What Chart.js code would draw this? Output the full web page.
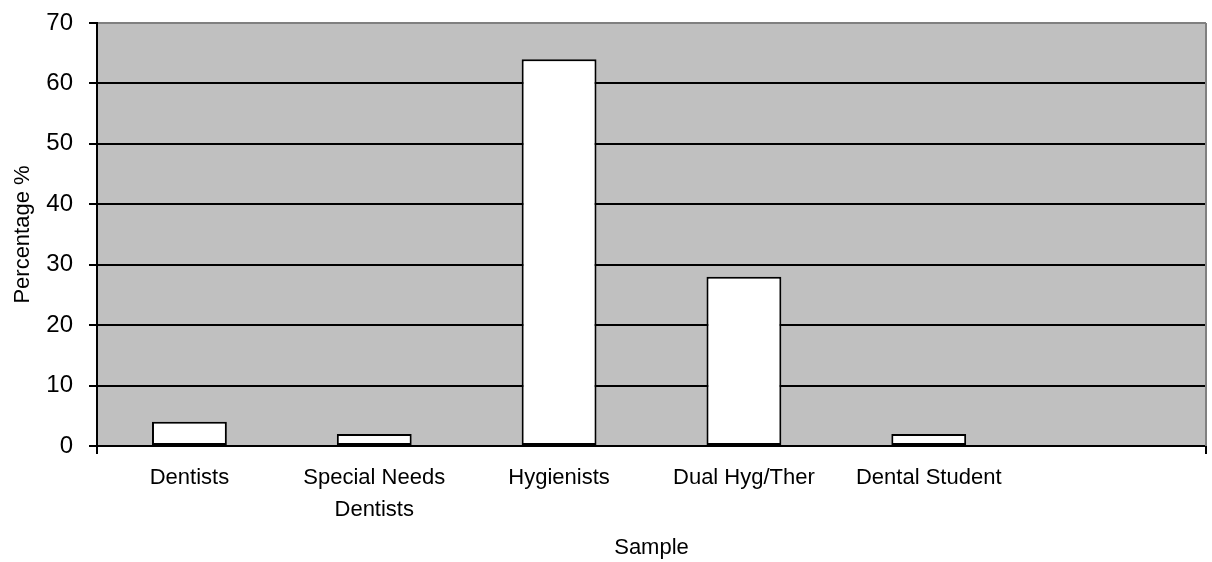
<!DOCTYPE html>
<html>
<head>
<meta charset="utf-8">
<script src="https://cdn.jsdelivr.net/npm/chart.js@4/dist/chart.umd.min.js"></script>
<style>
  html, body { margin: 0; padding: 0; background: #fff; }
  #wrap { width: 1212px; height: 562px; }
</style>
</head>
<body>
<div id="wrap"><canvas id="myChart" width="1212" height="562"></canvas></div>
<script>
var categories = ['Dentists', ['Special Needs', 'Dentists'], 'Hygienists', 'Dual Hyg/Ther', 'Dental Student', ''];
var percentages = [4, 2, 64, 28, 2, null];
var yTicks = [0, 10, 20, 30, 40, 50, 60, 70];

// grey plot area + grey right border, like the original spreadsheet chart
var plotFrame = {
  id: 'plotFrame',
  beforeDraw: function (chart) {
    var a = chart.chartArea, ctx = chart.ctx;
    ctx.save();
    ctx.fillStyle = '#c0c0c0';
    ctx.fillRect(a.left, a.top, a.right - a.left, a.bottom - a.top);
    ctx.restore();
  },
  afterDraw: function (chart) {
    var a = chart.chartArea, ctx = chart.ctx;
    ctx.save();
    ctx.lineWidth = 2;
    ctx.strokeStyle = '#808080';
    ctx.beginPath();
    ctx.moveTo(a.right, a.top);
    ctx.lineTo(a.right, a.bottom);
    ctx.stroke();
    ctx.strokeStyle = '#000';
    ctx.beginPath();
    ctx.moveTo(a.left, a.bottom);
    ctx.lineTo(a.left, a.bottom + 8);
    ctx.moveTo(a.right, a.bottom);
    ctx.lineTo(a.right, a.bottom + 8);
    ctx.stroke();
    ctx.restore();
  }
};

var txt = 'Liberation Sans, Arial';

var ctx = document.getElementById('myChart').getContext('2d');
var myBarChart = new Chart(ctx, {
  type: 'bar',
  data: {
    labels: categories,
    datasets: [{
      data: percentages,
      backgroundColor: '#ffffff',
      borderColor: '#000000',
      borderWidth: 2,
      borderSkipped: false,
      categoryPercentage: 1,
      barPercentage: 0.405
    }]
  },
  options: {
    responsive: false,
    animation: false,
    layout: { padding: { top: 23, right: 6, bottom: 0, left: 0 } },
    plugins: { legend: { display: false }, tooltip: { enabled: false } },
    scales: {
      x: {
        afterFit: function (s) { s.height = 116; },
        grid: { display: false },
        border: { display: true, color: '#000', width: 2 },
        ticks: { color: '#000', font: { family: txt, size: 22, lineHeight: 1.45 }, padding: 8, maxRotation: 0, autoSkip: false },
        title: { display: true, text: 'Sample', color: '#000', font: { family: txt, size: 22 }, padding: { top: 0, bottom: 1 } }
      },
      y: {
        min: 0,
        max: 70,
        afterFit: function (s) { s.width = 97; s.paddingTop = 0; s.paddingBottom = 0; },
        afterBuildTicks: function (axis) {
          axis.ticks = yTicks.map(function (v) { return { value: v }; });
        },
        grid: {
          color: function (c) { return c.tick && c.tick.value === 70 ? '#808080' : '#000'; },
          tickColor: '#000',
          lineWidth: 2,
          tickLength: 8
        },
        border: { display: true, color: '#000', width: 2 },
        ticks: { color: '#000', font: { family: txt, size: 24 }, padding: 16 },
        title: { display: true, text: 'Percentage %', color: '#000', font: { family: txt, size: 22 }, padding: { top: 10, bottom: 0 } }
      }
    }
  },
  plugins: [plotFrame]
});
</script>
</body>
</html>
